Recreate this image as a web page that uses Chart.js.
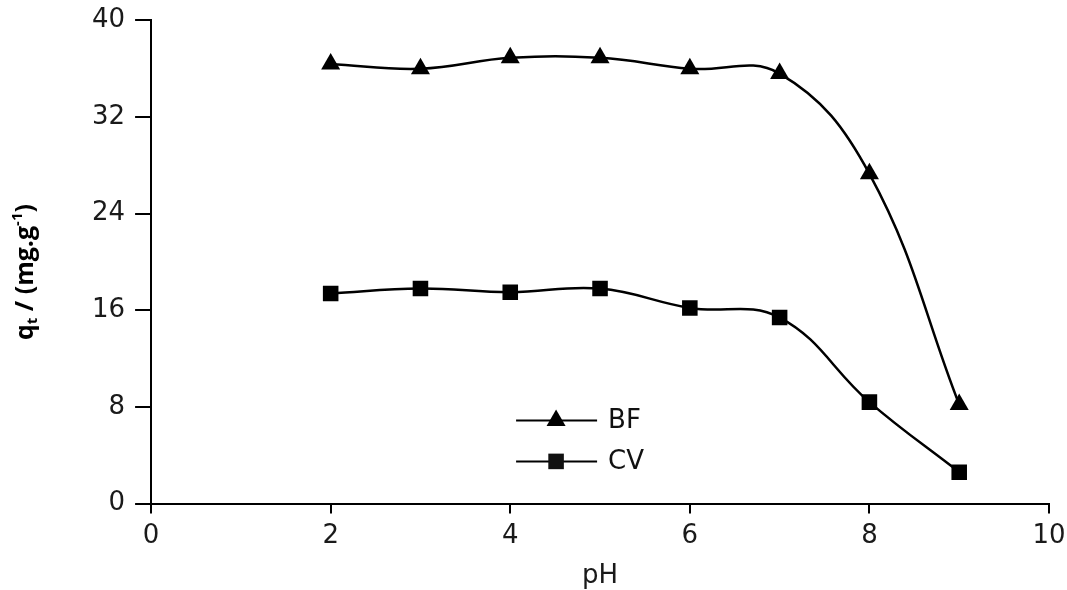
<!DOCTYPE html>
<html>
<head>
<meta charset="utf-8">
<script src="https://cdn.jsdelivr.net/npm/chart.js@4/dist/chart.umd.min.js"></script>
<style>
  html, body { margin: 0; padding: 0; background: #fff; }
  #wrap { width: 1067px; height: 590px; }
</style>
</head>
<body>
<div id="wrap"><canvas id="qtChart"></canvas></div>
<script>
// Dati
const phValues = [2, 3, 4, 5, 6, 7, 8, 9];
const bfValues = [36.4, 36.0, 36.9, 36.9, 36.0, 35.6, 27.3, 8.2];
const cvValues = [17.4, 17.8, 17.5, 17.8, 16.2, 15.4, 8.4, 2.6];
const xTicks = [0, 2, 4, 6, 8, 10];
const yTicks = [0, 8, 16, 24, 32, 40];

const tickFont = { family: 'DejaVu Sans', size: 26 };

// Titolo asse Y con pedice e apice
const yTitlePlugin = {
    id: 'yTitle',
    afterDraw: function(chart) {
        const ctx = chart.ctx;
        const area = chart.chartArea;
        const cy = (area.top + area.bottom) / 2 + 10;
        const big = 'bold 25px "Open Sans", "Liberation Sans", sans-serif';
        const small = 'bold 15px "Open Sans", "Liberation Sans", sans-serif';
        const parts = [
            { t: 'q', f: big, dy: 0 },
            { t: 't', f: small, dy: 4 },
            { t: ' / (mg.g', f: big, dy: 0 },
            { t: '-1', f: small, dy: -11 },
            { t: ')', f: big, dy: 0 }
        ];
        ctx.save();
        let total = 0;
        parts.forEach(p => { ctx.font = p.f; total += ctx.measureText(p.t).width; });
        ctx.translate(33, cy);
        ctx.rotate(-Math.PI / 2);
        ctx.fillStyle = '#000';
        ctx.textBaseline = 'alphabetic';
        let x = -total / 2;
        parts.forEach(p => {
            ctx.font = p.f;
            ctx.fillText(p.t, x, p.dy);
            x += ctx.measureText(p.t).width;
        });
        ctx.restore();
    }
};

// Legenda disegnata dentro l'area del grafico
const innerLegendPlugin = {
    id: 'innerLegend',
    afterDraw: function(chart) {
        const ctx = chart.ctx;
        const area = chart.chartArea;
        const x0 = area.left + 365;
        const y0 = area.top + 400;
        ctx.save();
        chart.data.datasets.forEach((ds, i) => {
            const y = y0 + i * 41;
            ctx.strokeStyle = '#000';
            ctx.lineWidth = 2;
            ctx.beginPath();
            ctx.moveTo(x0, y);
            ctx.lineTo(x0 + 81, y);
            ctx.stroke();
            Chart.helpers.drawPoint(ctx, {
                pointStyle: ds.pointStyle,
                radius: ds.pointRadius,
                borderWidth: 0
            }, x0 + 40, y);
            ctx.fillStyle = '#111';
            ctx.font = '26px "DejaVu Sans", sans-serif';
            ctx.textBaseline = 'middle';
            ctx.fillText(ds.label, x0 + 92, y + 1);
        });
        ctx.restore();
    }
};

Chart.defaults.animation = false;

const ctx = document.getElementById('qtChart');
new Chart(ctx, {
    type: 'line',
    data: {
        datasets: [{
            label: 'BF',
            data: phValues.map((x, i) => ({ x: x, y: bfValues[i] })),
            borderColor: '#000',
            backgroundColor: '#000',
            borderWidth: 2.5,
            pointStyle: 'triangle',
            pointRadius: 11,
            pointBorderWidth: 0,
            tension: 0.4,
            fill: false
        }, {
            label: 'CV',
            data: phValues.map((x, i) => ({ x: x, y: cvValues[i] })),
            borderColor: '#000',
            backgroundColor: '#000',
            borderWidth: 2.5,
            pointStyle: 'rect',
            pointRadius: 11,
            pointBorderWidth: 0,
            tension: 0.4,
            fill: false
        }]
    },
    options: {
        responsive: true,
        maintainAspectRatio: false,
        layout: {
            padding: { left: 82, right: 18, top: 8, bottom: -2 }
        },
        plugins: {
            legend: { display: false },
            tooltip: { enabled: false }
        },
        scales: {
            x: {
                type: 'linear',
                min: 0,
                max: 10,
                afterBuildTicks: function(axis) {
                    axis.ticks = xTicks.map(v => ({ value: v }));
                },
                afterFit: function(axis) {
                    // l'etichetta "10" può sporgere oltre l'area
                    axis.paddingRight = 0;
                },
                grid: {
                    drawOnChartArea: false,
                    color: '#000',
                    lineWidth: 2,
                    tickLength: 10
                },
                border: { color: '#000', width: 2 },
                ticks: { color: '#1a1a1a', font: tickFont, padding: 7, maxRotation: 0 },
                title: {
                    display: true,
                    text: 'pH',
                    color: '#1a1a1a',
                    font: { family: 'DejaVu Sans', size: 26 },
                    padding: { top: 2, bottom: 0 }
                }
            },
            y: {
                type: 'linear',
                min: 0,
                max: 40,
                afterBuildTicks: function(axis) {
                    axis.ticks = yTicks.map(v => ({ value: v }));
                },
                grid: {
                    drawOnChartArea: false,
                    color: '#000',
                    lineWidth: 2,
                    tickLength: 16
                },
                border: { color: '#000', width: 2 },
                ticks: { color: '#1a1a1a', font: { family: 'DejaVu Sans', size: 26, lineHeight: 0.8 }, padding: 10 }
            }
        }
    },
    plugins: [yTitlePlugin, innerLegendPlugin]
});
</script>
</body>
</html>
